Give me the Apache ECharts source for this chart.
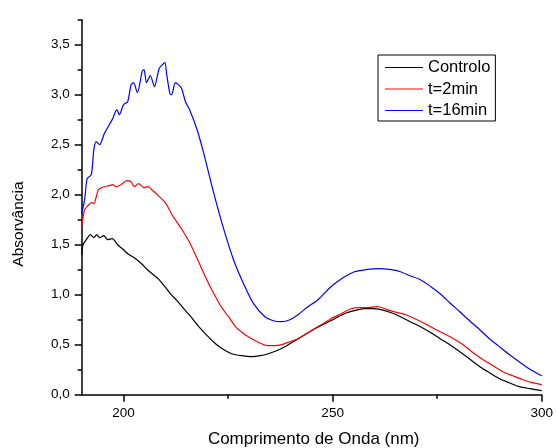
<!DOCTYPE html>
<html>
<head>
<meta charset="utf-8">
<script src="https://cdn.jsdelivr.net/npm/echarts@6/dist/echarts.min.js"></script>
<style>html,body{margin:0;padding:0;background:#fff}#c{width:556px;height:448px}</style>
</head>
<body>
<div id="c"></div>
<script>
var seriesNames = ['Controlo', 't=2min', 't=16min'];
var xTicks = [200, 250, 300];
var xMinorTicks = [225, 275];
var yTicks = [0, 0.5, 1.0, 1.5, 2.0, 2.5, 3.0, 3.5];
var yMinorTicks = [0.25, 0.75, 1.25, 1.75, 2.25, 2.75, 3.25, 3.75];

var ctrlX = [190.0,190.3,191.1,192.1,192.9,193.6,194.3,195.3,196.2,197.3,198.6,200.0,201.0,202.9,204.3,205.7,207.1,208.5,209.9,211.2,212.8,214.4,215.7,218.0,220.0,222.0,224.0,225.9,228.3,230.7,232.7,234.6,236.6,238.6,241.0,243.3,245.7,248.1,250.5,252.8,255.2,257.5,259.5,261.5,264.0,266.2,268.5,271.0,273.5,275.7,278.0,280.4,283.0,285.2,287.5,289.9,292.2,294.6,297.2,300.0];
var ctrlY = [1.40,1.50,1.55,1.60,1.57,1.60,1.57,1.59,1.55,1.56,1.50,1.45,1.41,1.36,1.31,1.25,1.20,1.15,1.08,1.01,0.94,0.86,0.80,0.68,0.59,0.51,0.45,0.41,0.39,0.38,0.39,0.41,0.44,0.48,0.54,0.60,0.66,0.71,0.76,0.81,0.84,0.86,0.86,0.85,0.82,0.78,0.73,0.68,0.62,0.56,0.50,0.43,0.35,0.28,0.22,0.16,0.12,0.08,0.06,0.04];

var t2X = [190.0,190.7,191.5,192.3,192.9,194.0,195.4,196.5,197.4,198.2,199.4,200.8,201.8,202.6,203.6,204.9,205.9,207.0,208.1,210.0,211.6,214.0,215.7,217.2,218.8,220.5,222.0,223.5,225.1,227.0,229.1,231.1,233.0,234.6,236.2,237.8,239.8,241.7,243.7,245.7,247.7,249.6,252.0,254.4,256.5,258.3,260.7,262.5,264.6,267.5,270.2,273.0,275.7,278.5,281.2,283.6,286.0,288.4,290.7,293.1,295.5,297.7,300.0];
var t2Y = [1.68,1.85,1.89,1.92,1.91,2.05,2.08,2.09,2.10,2.08,2.10,2.14,2.13,2.08,2.11,2.07,2.08,2.04,2.00,1.92,1.80,1.65,1.53,1.40,1.25,1.10,0.98,0.87,0.78,0.67,0.60,0.55,0.51,0.49,0.49,0.50,0.53,0.56,0.61,0.66,0.71,0.76,0.81,0.86,0.87,0.87,0.88,0.86,0.83,0.80,0.75,0.69,0.63,0.57,0.50,0.42,0.35,0.29,0.23,0.19,0.15,0.12,0.10];

var t16X = [190.0,190.7,191.3,192.3,192.9,193.5,194.3,195.4,196.6,197.4,198.4,199.0,200.0,201.0,201.8,202.4,203.3,204.5,204.9,205.5,206.4,207.4,208.5,209.3,209.9,210.3,211.1,211.5,212.4,213.8,214.8,215.8,217.6,219.2,221.6,224.0,226.3,228.7,231.1,233.8,235.8,237.8,239.8,241.7,244.1,246.5,249.6,252.5,255.2,258.0,261.0,264.0,266.2,268.5,271.0,273.5,275.7,278.0,280.4,283.0,285.2,287.5,289.9,292.3,294.6,297.0,300.0];
var t16Y = [1.81,1.95,2.16,2.20,2.45,2.53,2.50,2.61,2.70,2.76,2.85,2.80,2.90,2.93,3.10,3.12,3.02,3.24,3.25,3.12,3.19,3.08,3.26,3.30,3.32,3.21,3.01,3.00,3.12,3.07,2.93,2.85,2.65,2.41,2.01,1.65,1.35,1.11,0.91,0.78,0.74,0.73,0.75,0.80,0.88,0.95,1.08,1.17,1.23,1.25,1.26,1.25,1.23,1.19,1.15,1.08,1.01,0.92,0.83,0.73,0.65,0.56,0.48,0.40,0.33,0.26,0.19];

var colors = ['#000000', '#ff0000', '#0000ff'];

function pairs(xs, ys) { return xs.map(function (x, i) { return [x, ys[i]]; }); }
var FONT = '"Liberation Sans", Arial, sans-serif';

var chart = echarts.init(document.getElementById('c'), null, { renderer: 'canvas' });
var axisLineStyle = { color: '#000', width: 1.5 };
chart.setOption({
  animation: false,
  backgroundColor: '#fff',
  grid: { left: 81.7, right: 10.3, top: 19.7, bottom: 53.3, containLabel: false },
  legend: {
    left: 378, top: 55, orient: 'vertical',
    data: seriesNames,
    icon: 'rect',
    itemWidth: 38, itemHeight: 1.2, itemGap: 2.5,
    padding: [3, 5, 1, 7],
    borderColor: '#000', borderWidth: 1,
    textStyle: { fontFamily: FONT, fontSize: 16.5, color: '#000', lineHeight: 19 }
  },
  xAxis: [{
    type: 'value', min: 190, max: 300,
    axisLine: { lineStyle: axisLineStyle },
    splitLine: { show: false },
    axisTick: { customValues: xTicks, length: 7, lineStyle: { color: '#000', width: 1.5 } },
    axisLabel: { customValues: xTicks, margin: 12, fontFamily: FONT, fontSize: 13.5, color: '#000' }
  }, {
    type: 'value', min: 190, max: 300, position: 'bottom',
    axisLine: { show: false },
    splitLine: { show: false },
    axisTick: { customValues: xMinorTicks, length: 4, lineStyle: { color: '#000', width: 1.5 } },
    axisLabel: { show: false }
  }],
  yAxis: [{
    type: 'value', min: 0, max: 3.75,
    axisLine: { show: true, lineStyle: axisLineStyle },
    splitLine: { show: false },
    axisTick: { show: true, customValues: yTicks, length: 7, lineStyle: { color: '#000', width: 1.5 } },
    axisLabel: {
      customValues: yTicks, margin: 12, fontFamily: FONT, fontSize: 13.5, color: '#000',
      formatter: function (v) { return v.toFixed(1).replace('.', ','); }
    }
  }, {
    type: 'value', min: 0, max: 3.75, position: 'left',
    axisLine: { show: false },
    splitLine: { show: false },
    axisTick: { show: true, customValues: yMinorTicks, length: 4, lineStyle: { color: '#000', width: 1.5 } },
    axisLabel: { show: false }
  }],
  graphic: [{
    type: 'text', x: 313.7, y: 439,
    style: { text: 'Comprimento de Onda (nm)', font: '17px ' + FONT, fill: '#000', align: 'center', verticalAlign: 'middle' }
  }, {
    type: 'text', x: 19, y: 224, rotation: Math.PI / 2,
    style: { text: 'Absorvância', font: '15.5px ' + FONT, fill: '#000', align: 'center', verticalAlign: 'middle' }
  }],
  series: [
    { name: seriesNames[0], type: 'line', data: pairs(ctrlX, ctrlY), showSymbol: false, symbol: 'none', smooth: 0.25, lineStyle: { color: colors[0], width: 1.2 }, itemStyle: { color: colors[0] } },
    { name: seriesNames[1], type: 'line', data: pairs(t2X, t2Y), showSymbol: false, symbol: 'none', smooth: 0.25, lineStyle: { color: colors[1], width: 1.2 }, itemStyle: { color: colors[1] } },
    { name: seriesNames[2], type: 'line', data: pairs(t16X, t16Y), showSymbol: false, symbol: 'none', smooth: 0.25, lineStyle: { color: colors[2], width: 1.2 }, itemStyle: { color: colors[2] } }
  ]
});
</script>
</body>
</html>
